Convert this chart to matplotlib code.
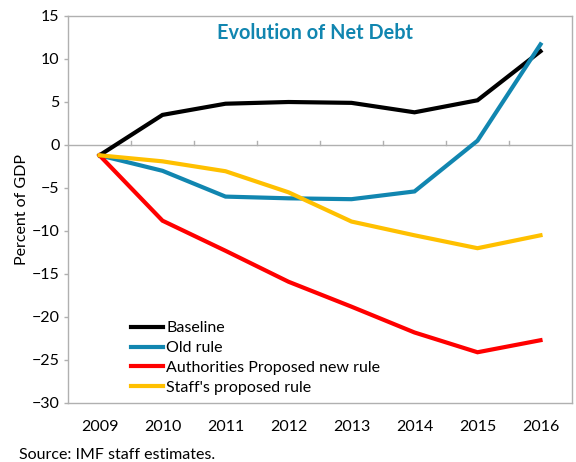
import matplotlib
matplotlib.use("Agg")
import matplotlib.pyplot as plt
import numpy as np

years = ["2009", "2010", "2011", "2012", "2013", "2014", "2015", "2016"]
baseline = [-1.2, 3.5, 4.8, 5.0, 4.9, 3.8, 5.2, 10.9]
old_rule = [-1.2, -3.0, -6.0, -6.2, -6.3, -5.4, 0.5, 11.7]
authorities = [-1.2, -8.8, -12.3, -15.9, -18.8, -21.8, -24.1, -22.7]
staff = [-1.2, -1.9, -3.05, -5.5, -8.9, -10.5, -12.0, -10.5]

series_names = ["Baseline", "Old rule", "Authorities Proposed new rule", "Staff's proposed rule"]
colors = ["#000000", "#1186b0", "#ff0000", "#ffc000"]

plt.rcParams['font.family'] = ['Lato', 'DejaVu Sans']

fig = plt.figure(figsize=(5.76, 4.62), dpi=100)
ax = fig.add_axes([68/576, 1-403/462, (572-68)/576, (403-16)/462])

x = np.arange(len(years))
for vals, name, c in zip([baseline, old_rule, authorities, staff], series_names, colors):
    ax.plot(x, vals, color=c, lw=3, label=name, solid_joinstyle='miter')

ax.set_xlim(-0.5, len(years) - 0.5)
ax.set_ylim(-30, 15)
ax.set_yticks(np.arange(-30, 16, 5))
ax.tick_params(axis='y', labelsize=11.5, length=3, color='#b0b0b0', width=1, pad=3)
ax.set_xticks(x)
ax.set_xticklabels(years)
ax.tick_params(axis='x', labelsize=11.5, length=0, pad=12)

for s in ax.spines.values():
    s.set_color('#b0b0b0')
    s.set_linewidth(1)

# zero line with category separator ticks
ax.axhline(0, color='#b0b0b0', lw=1, zorder=1)
for b in np.arange(0.5, len(years) - 0.5, 1):
    ax.plot([b, b], [0, 0.45], color='#b0b0b0', lw=1, zorder=1)

ax.set_ylabel("Percent of GDP", fontsize=11.5, labelpad=2)

ax.text(0.49, 0.955, "Evolution of Net Debt", transform=ax.transAxes, ha='center', va='center',
        fontsize=14.3, fontweight='bold', color='#1186b0')

leg = ax.legend(loc='upper left', bbox_to_anchor=(63/504, (403-321)/387), frameon=False,
                fontsize=11.5, handlelength=2.0, handletextpad=0.2, labelspacing=0.36,
                borderaxespad=0, borderpad=0)

fig.text(19/576, 1-455/462, "Source: IMF staff estimates.", fontsize=11.5, ha='left', va='center')

fig.savefig("out.png", dpi=100)
